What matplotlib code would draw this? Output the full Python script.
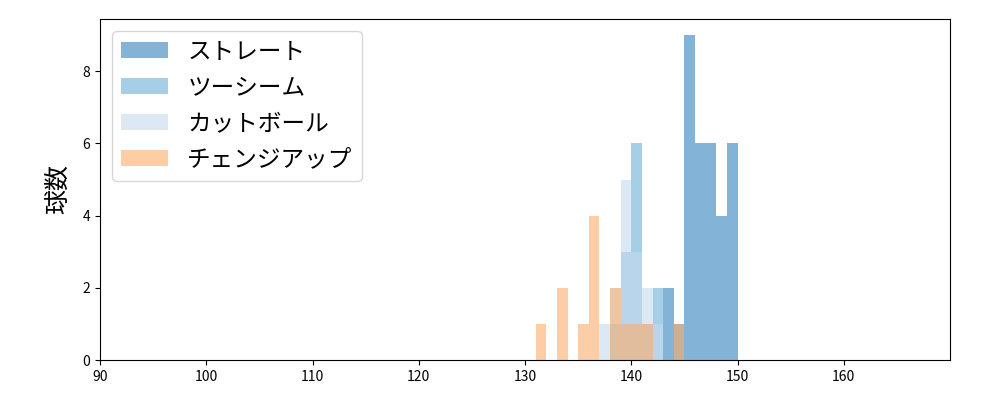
import matplotlib
matplotlib.use("Agg")
import matplotlib.pyplot as plt
import numpy as np

plt.rcParams['font.family'] = ['Noto Sans CJK JP', 'DejaVu Sans']

# 1 km/h bins: left edge of each bin and pitch count per pitch type
straight_bins = [143, 144, 145, 146, 147, 148, 149]
straight_counts = [2, 1, 9, 6, 6, 4, 6]

twoseam_bins = [138, 139, 140, 141, 142]
twoseam_counts = [1, 3, 6, 1, 2]

cutter_bins = [137, 138, 139, 140, 141, 142]
cutter_counts = [1, 2, 5, 3, 2, 1]

change_bins = [131, 133, 135, 136, 138, 139, 140, 141, 144]
change_counts = [1, 2, 1, 4, 2, 1, 1, 1, 1]

pitch_names = ['ストレート', 'ツーシーム', 'カットボール', 'チェンジアップ']
pitch_colors = ['#3182bd', '#6baed6', '#c6dbef', '#fdae6b']

x_ticks = [90, 100, 110, 120, 130, 140, 150, 160]

series = [
    (straight_bins, straight_counts),
    (twoseam_bins, twoseam_counts),
    (cutter_bins, cutter_counts),
    (change_bins, change_counts),
]

edges = np.arange(90, 171, 1)

fig = plt.figure(figsize=(10, 4), dpi=100)
ax = fig.add_axes([0.1, 0.1, 0.85, 0.8525])

for (bins, counts), name, color in zip(series, pitch_names, pitch_colors):
    centers = np.array(bins) + 0.5
    ax.hist(centers, bins=edges, weights=counts, color=color, alpha=0.6, label=name)

ax.set_xlim(90, 170)
ax.set_xticks(x_ticks)
ax.set_ylabel('球数', fontsize=18, labelpad=8)
ax.tick_params(labelsize=10)
ax.legend(loc='upper left', fontsize=17, labelspacing=0.55)

fig.savefig('out.png')
